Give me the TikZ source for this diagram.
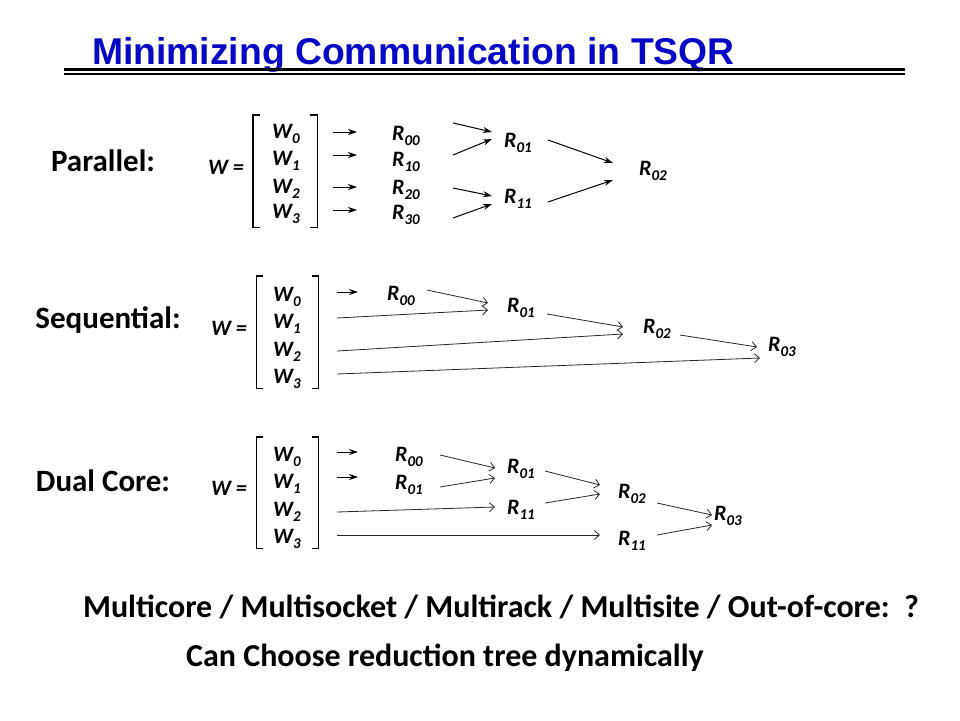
\documentclass[tikz,border=0pt]{standalone}
\usepackage{fontspec}
\setmainfont{Carlito}
\newfontfamily\titlefont{Liberation Sans}
\usetikzlibrary{arrows.meta}
\definecolor{titleblue}{RGB}{8,8,196}
\newcommand{\idx}[1]{\raisebox{-0.22em}{\fontsize{15}{15}\selectfont #1}}
\tikzset{
	titletext/.style={
		font=\titlefont\fontsize{37.3}{37.3}\selectfont\bfseries,
		text=titleblue,
		inner sep=0pt
	},
	heading/.style={
		font=\fontsize{31}{31}\selectfont\bfseries,
		inner sep=0pt
	},
	remark/.style={
		font=\fontsize{32}{32}\selectfont\bfseries,
		inner sep=0pt
	},
	entry/.style={
		font=\fontsize{22}{22}\selectfont\bfseries\itshape,
		inner sep=0pt
	},
	column/.style={
		rectangle,
		minimum width=62pt,
		minimum height=112pt,
		inner sep=0pt
	},
	bracket/.style={
		draw=black,
		line width=1.4pt
	},
	arrow/.style={
		draw=black,
		line width=1pt,
		-{Stealth[length=9pt,width=6pt]}
	},
	barb/.style={
		draw=black!85,
		line width=0.8pt,
		-{Straight Barb[length=5pt,width=9pt]}
	},
}

\begin{document}
\begin{tikzpicture}[x=1pt,y=-1pt]
		\useasboundingbox (0,0) rectangle (960,720);
		% title
		\node (title) [titletext,anchor=base west] at (92,64) {Minimizing Communication in TSQR};
		\draw [line width=3pt] (64,69) -- (905,69);
		\draw [line width=1.2pt] (64,74) -- (905,74);
		% parallel
		\node (lblP) [heading] at (103,161) {Parallel:};
		\node (eqP) [entry] at (226,167) {W =};
		\node (colP) [column, minimum width=64pt] at (285,171) {};
		\draw [bracket] ([xshift=7pt]colP.north west) -- (colP.north west) -- (colP.south west) -- ([xshift=7pt]colP.south west);
		\draw [bracket] ([xshift=-7pt]colP.north east) -- (colP.north east) -- (colP.south east) -- ([xshift=-7pt]colP.south east);
		\node (W0P) [entry] at (286,134) {W\idx{0}};
		\node (W1P) [entry] at (286,161) {W\idx{1}};
		\node (W2P) [entry] at (286,189) {W\idx{2}};
		\node (W3P) [entry] at (286,214) {W\idx{3}};
		\node (R00P) [entry] at (406,136) {R\idx{00}};
		\node (R10P) [entry] at (406,162) {R\idx{10}};
		\node (R20P) [entry] at (406,190) {R\idx{20}};
		\node (R30P) [entry] at (406,215) {R\idx{30}};
		\node (R01P) [entry] at (518,143) {R\idx{01}};
		\node (R11P) [entry] at (518,199) {R\idx{11}};
		\node (R02P) [entry] at (653,171) {R\idx{02}};
		\draw [arrow] ([xshift=47pt,yshift=2pt]W0P.center) -- ([xshift=-49pt,yshift=4pt]R00P.center);
		\draw [arrow] ([xshift=47pt,yshift=6pt]W1P.center) -- ([xshift=-49pt,yshift=7pt]R10P.center);
		\draw [arrow] ([xshift=47pt,yshift=2pt]W2P.center) -- ([xshift=-49pt,yshift=3pt]R20P.center);
		\draw [arrow] ([xshift=47pt,yshift=4pt]W3P.center) -- ([xshift=-49pt,yshift=5pt]R30P.center);
		\draw [arrow] ([xshift=47pt,yshift=13pt]R00P.center) -- ([xshift=-26pt,yshift=11pt]R01P.center);
		\draw [arrow] ([xshift=47pt,yshift=7pt]R10P.center) -- ([xshift=-26pt,yshift=4pt]R01P.center);
		\draw [arrow] ([xshift=47pt,yshift=2pt]R20P.center) -- ([xshift=-26pt,yshift=3pt]R11P.center);
		\draw [arrow] ([xshift=47pt,yshift=-3pt]R30P.center) -- ([xshift=-26pt,yshift=-5pt]R11P.center);
		\draw [arrow] ([xshift=30pt,yshift=3pt]R01P.center) -- ([xshift=-40pt,yshift=8pt]R02P.center);
		\draw [arrow] ([xshift=30pt,yshift=-3pt]R11P.center) -- ([xshift=-40pt,yshift=-9pt]R02P.center);
		% sequential
		\node (lblS) [heading] at (108,320) {Sequential:};
		\node (eqS) [entry] at (229,328) {W =};
		\node (colS) [column] at (287.5,332) {};
		\draw [bracket] ([xshift=7pt]colS.north west) -- (colS.north west) -- (colS.south west) -- ([xshift=7pt]colS.south west);
		\draw [bracket] ([xshift=-7pt]colS.north east) -- (colS.north east) -- (colS.south east) -- ([xshift=-7pt]colS.south east);
		\node (W0S) [entry] at (287,297) {W\idx{0}};
		\node (W1S) [entry] at (287,324) {W\idx{1}};
		\node (W2S) [entry] at (287,352) {W\idx{2}};
		\node (W3S) [entry] at (287,379) {W\idx{3}};
		\node (R00S) [entry] at (401,296) {R\idx{00}};
		\node (R01S) [entry] at (521,308) {R\idx{01}};
		\node (R02S) [entry] at (657,329) {R\idx{02}};
		\node (R03S) [entry] at (782,347) {R\idx{03}};
		\draw [arrow] ([xshift=50pt,yshift=5pt]W0S.center) -- ([xshift=-43pt,yshift=4pt]R00S.center);
		\draw [barb] ([xshift=26pt,yshift=6pt]R00S.center) -- ([xshift=-33pt,yshift=5pt]R01S.center);
		\draw [barb] ([xshift=50pt,yshift=6pt]W1S.center) -- ([xshift=-33pt,yshift=-2pt]R01S.center);
		\draw [barb] ([xshift=26pt,yshift=-6pt]R01S.center) -- ([xshift=-34pt,yshift=2pt]R02S.center);
		\draw [barb] ([xshift=50pt,yshift=1pt]W2S.center) -- ([xshift=-34pt,yshift=-5pt]R02S.center);
		\draw [barb] ([xshift=23pt,yshift=-6pt]R02S.center) -- ([xshift=-25pt,yshift=0pt]R03S.center);
		\draw [barb] ([xshift=50pt,yshift=5pt]W3S.center) -- ([xshift=-22pt,yshift=-11pt]R03S.center);
		% dual core
		\node (lblD) [heading] at (103,481) {Dual Core:};
		\node (eqD) [entry] at (229,488) {W =};
		\node (colD) [column, minimum height=111pt] at (287.5,492.5) {};
		\draw [bracket] ([xshift=7pt]colD.north west) -- (colD.north west) -- (colD.south west) -- ([xshift=7pt]colD.south west);
		\draw [bracket] ([xshift=-7pt]colD.north east) -- (colD.north east) -- (colD.south east) -- ([xshift=-7pt]colD.south east);
		\node (W0D) [entry] at (287,457) {W\idx{0}};
		\node (W1D) [entry] at (287,484) {W\idx{1}};
		\node (W2D) [entry] at (287,512) {W\idx{2}};
		\node (W3D) [entry] at (287,539) {W\idx{3}};
		\node (D00) [entry] at (409,457) {R\idx{00}};
		\node (D01) [entry] at (409,485) {R\idx{01}};
		\node (D10) [entry] at (521,469) {R\idx{01}};
		\node (D11) [entry] at (521,510) {R\idx{11}};
		\node (D20) [entry] at (632,494) {R\idx{02}};
		\node (D21) [entry] at (632,541) {R\idx{11}};
		\node (D30) [entry] at (728,516) {R\idx{03}};
		\draw [arrow] ([xshift=50pt,yshift=5pt]W0D.center) -- ([xshift=-51pt,yshift=5pt]D00.center);
		\draw [arrow] ([xshift=50pt,yshift=7pt]W1D.center) -- ([xshift=-51pt,yshift=8pt]D01.center);
		\draw [barb] ([xshift=31pt,yshift=2pt]D00.center) -- ([xshift=-26pt,yshift=1pt]D10.center);
		\draw [barb] ([xshift=31pt,yshift=-2pt]D01.center) -- ([xshift=-26pt,yshift=-9pt]D10.center);
		\draw [barb] ([xshift=50pt,yshift=0pt]W2D.center) -- ([xshift=-26pt,yshift=3pt]D11.center);
		\draw [barb] ([xshift=50pt,yshift=4pt]W3D.center) -- ([xshift=-32pt,yshift=6pt]D21.center);
		\draw [barb] ([xshift=24pt,yshift=-2pt]D10.center) -- ([xshift=-32pt,yshift=9pt]D20.center);
		\draw [barb] ([xshift=24pt,yshift=7pt]D11.center) -- ([xshift=-32pt,yshift=0pt]D20.center);
		\draw [barb] ([xshift=25pt,yshift=-9pt]D20.center) -- ([xshift=-16pt,yshift=1pt]D30.center);
		\draw [barb] ([xshift=25pt,yshift=6pt]D21.center) -- ([xshift=-16pt,yshift=-9pt]D30.center);
		% bottom lines
		\node (multi) [remark] at (501,607) {Multicore / Multisocket / Multirack / Multisite / Out-of-core:\ \ ?};
		\node (tree) [remark] at (445,658) {Can Choose reduction tree dynamically};
\end{tikzpicture}
\end{document}
